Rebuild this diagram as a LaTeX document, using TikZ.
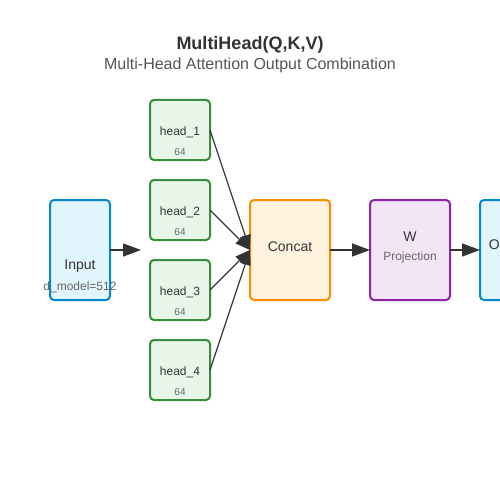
\documentclass[tikz,border=0pt]{standalone}
\usepackage{fontspec}
\setmainfont{Liberation Sans}
\usetikzlibrary{arrows.meta}
\definecolor{txt}{HTML}{333333}
\definecolor{subtxt}{HTML}{555555}
\definecolor{smalltxt}{HTML}{666666}
\definecolor{blueb}{HTML}{0288D1}\definecolor{bluef}{HTML}{E1F5FE}
\definecolor{greenb}{HTML}{388E3C}\definecolor{greenf}{HTML}{E8F5E9}
\definecolor{orangeb}{HTML}{FB8C00}\definecolor{orangef}{HTML}{FFF3E0}
\definecolor{purpleb}{HTML}{8E24AA}\definecolor{purplef}{HTML}{F3E5F5}
\definecolor{conn}{HTML}{333333}
\tikzset{
  box/.style={draw, line width=2pt, rounded corners=4pt, inner sep=0pt, outer sep=0pt},
  inbox/.style={box, draw=blueb, fill=bluef, minimum width=60pt, minimum height=100pt},
  headbox/.style={box, draw=greenb, fill=greenf, minimum width=60pt, minimum height=60pt},
  catbox/.style={box, draw=orangeb, fill=orangef, minimum width=80pt, minimum height=100pt},
  wbox/.style={box, draw=purpleb, fill=purplef, minimum width=80pt, minimum height=100pt},
  lbl/.style={inner sep=0pt, text=txt, font=\fontsize{14}{16}\selectfont},
  hlbl/.style={inner sep=0pt, text=txt, font=\fontsize{12}{14}\selectfont},
  sml/.style={inner sep=0pt, text=smalltxt, font=\fontsize{12}{14}\selectfont},
  tiny/.style={inner sep=0pt, text=smalltxt, font=\fontsize{10}{12}\selectfont},
  conn/.style={draw=conn, line width=1.5pt, -{Triangle[length=18pt,width=13pt]}},
  thin/.style={draw=conn, line width=1.2pt, -{Triangle[length=15pt,width=11pt]}}
}
\begin{document}
\begin{tikzpicture}[x=1pt,y=-1pt]
\path[use as bounding box] (0,0) rectangle (500,500);
\clip (0,0) rectangle (500,500);
\fill[white] (0,0) rectangle (500,500);
% title
\node[inner sep=0pt, text=txt, font=\fontsize{18}{20}\selectfont\bfseries] (title) at (250,45) {MultiHead(Q,K,V)};
\node[inner sep=0pt, text=subtxt, font=\fontsize{16}{18}\selectfont] (subtitle) at (250,65) {Multi-Head Attention Output Combination};
% input
\node[inbox] (input) at (80,250) {};
\node[lbl] (inputl) at (80,266.5) {Input};
\node[sml] (inputs) at (80,287) {d\_model=512};
\coordinate (split) at (141,250);
% heads
\foreach \i/\y in {1/130,2/210,3/290,4/370}{
  \node[headbox] (h\i) at (180,\y) {};
  \node[hlbl] (h\i l) at (180,\y+2) {head\_\i};
  \node[tiny] (h\i s) at (180,\y+22) {64};
}
% concat
\node[catbox] (concat) at (290,250) {};
\node[lbl] (concatl) at (290,246.5) {Concat};
% W
\node[wbox] (w) at (410,250) {};
\node[lbl] (wl) at (410,236.5) {W};
\node[sml] (ws) at (410,257) {Projection};
% output
\node[inbox] (output) at (510,250) {};
\node[lbl] (outputl) at (510,246.5) {Output};
% connectors
\draw[conn] (input.east) -- (split);
\foreach \i in {1,2,3,4}{
  \draw[thin] (h\i.east) -- (concat.west);
}
\draw[conn] (concat.east) -- (w.west);
\draw[conn] (w.east) -- (output.west);
\end{tikzpicture}
\end{document}
